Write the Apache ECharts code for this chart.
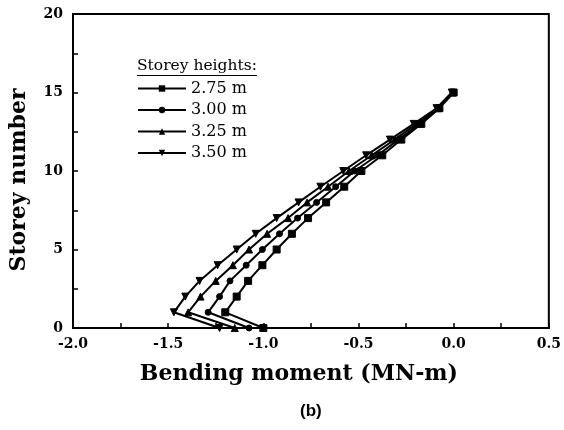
<!doctype html>
<html>
<head>
<meta charset="utf-8">
<title>Bending moment vs storey</title>
<script src="https://cdn.jsdelivr.net/npm/echarts@6/dist/echarts.min.js"></script>
<style>
  html, body { margin: 0; padding: 0; background: #fff; }
  #main { width: 564px; height: 430px; }
</style>
</head>
<body>
<div id="main"></div>
<script>
// storey levels (y) and bending moments (x)
var storeys = [0, 1, 2, 3, 4, 5, 6, 7, 8, 9, 10, 11, 12, 13, 14, 15];
var h275 = [-1.00, -1.20, -1.14, -1.08, -1.005, -0.93, -0.85, -0.765, -0.67, -0.575, -0.485, -0.375, -0.275, -0.17, -0.075, 0.0];
var h300 = [-1.075, -1.29, -1.23, -1.175, -1.09, -1.005, -0.915, -0.82, -0.72, -0.62, -0.52, -0.40, -0.29, -0.18, -0.078, -0.003];
var h325 = [-1.15, -1.395, -1.33, -1.25, -1.16, -1.075, -0.98, -0.87, -0.77, -0.66, -0.55, -0.43, -0.31, -0.195, -0.085, -0.006];
var h350 = [-1.23, -1.47, -1.41, -1.335, -1.24, -1.14, -1.04, -0.93, -0.815, -0.70, -0.58, -0.46, -0.335, -0.21, -0.09, -0.01];
var names = ['2.75 m', '3.00 m', '3.25 m', '3.50 m'];
var symbols = ['rect', 'circle', 'triangle', 'path://M0,0L2,0L1,1.8Z'];
var sizes = [7, 6, 7, 7];
var xTicks = [-2.0, 0.5, 0.5];   // min, max, interval
var yTicks = [0, 20, 5];

var all = [h275, h300, h325, h350];
var chart = echarts.init(document.getElementById('main'));

var series = all.map(function (vals, i) {
    return {
        name: names[i],
        type: 'line',
        z: 10 - i,
        data: vals.map(function (v, k) { return [v, storeys[k]]; }),
        symbol: symbols[i],
        symbolSize: sizes[i],
        showAllSymbol: true,
        lineStyle: { color: '#000', width: 2 },
        itemStyle: { color: '#000', borderColor: '#000' },
        emphasis: { disabled: true },
        animation: false
    };
});

var axisFont = { fontFamily: 'DejaVu Serif', fontWeight: 'bold', color: '#000' };

var option = {
    animation: false,
    grid: {
        left: 72, right: 11, top: 14, bottom: 102,
        show: true, borderColor: '#000', borderWidth: 2
    },
    legend: {
        orient: 'vertical',
        left: 137,
        top: 80.5,
        padding: 0,
        itemWidth: 48,
        itemHeight: 8,
        itemGap: 5.5,
        textStyle: { fontFamily: 'DejaVu Serif', fontSize: 16, color: '#000' },
        data: names
    },
    xAxis: {
        type: 'value',
        min: xTicks[0], max: xTicks[1], interval: xTicks[2],
        name: 'Bending moment (MN-m)',
        nameLocation: 'middle',
        nameGap: 35,
        nameTextStyle: Object.assign({ fontSize: 22, padding: [0, 24, 0, 0] }, axisFont),
        axisLine: { onZero: false, lineStyle: { color: '#000', width: 2 } },
        axisTick: { inside: true, length: 5, lineStyle: { color: '#000', width: 1.5 } },
        minorTick: { show: true, splitNumber: 2, length: 5, lineStyle: { color: '#000', width: 1.5 } },
        splitLine: { show: false },
        axisLabel: Object.assign({ fontSize: 14, margin: 9,
            formatter: function (v) { return v.toFixed(1); } }, axisFont)
    },
    yAxis: {
        type: 'value',
        min: yTicks[0], max: yTicks[1], interval: yTicks[2],
        name: 'Storey number',
        nameLocation: 'middle',
        nameGap: 43,
        nameTextStyle: Object.assign({ fontSize: 22, padding: [0, 18, 0, 0] }, axisFont),
        axisLine: { onZero: false, lineStyle: { color: '#000', width: 2 } },
        axisTick: { inside: true, length: 5, lineStyle: { color: '#000', width: 1.5 } },
        minorTick: { show: true, splitNumber: 2, length: 5, lineStyle: { color: '#000', width: 1.5 } },
        splitLine: { show: false },
        axisLabel: Object.assign({ fontSize: 14, margin: 10 }, axisFont)
    },
    graphic: [
        {
            type: 'text', left: 137, top: 58,
            style: { text: 'Storey heights:', font: '15.5px "DejaVu Serif"', fill: '#000' }
        },
        {
            type: 'line',
            shape: { x1: 137, y1: 75.5, x2: 257, y2: 75.5 },
            style: { stroke: '#000', lineWidth: 1.2 }
        },
        {
            type: 'text', left: 300, top: 403,
            style: { text: '(b)', font: 'bold 17px "Liberation Sans"', fill: '#000' }
        }
    ],
    series: series
};

chart.setOption(option);
</script>
</body>
</html>
